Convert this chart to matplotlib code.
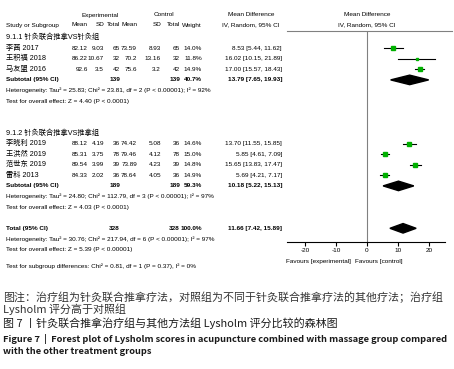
import matplotlib.pyplot as plt
from matplotlib.patches import Polygon

plt.rcParams['font.family'] = ['Liberation Sans', 'Noto Sans CJK SC', 'DejaVu Sans']

# study level data
study = ['李茜 2017', '王积福 2018', '马友盟 2016',
         '李晓利 2019', '王洪然 2019', '范世东 2019', '雷科 2013']
exp_mean = [82.12, 86.22, 92.6, 88.12, 85.31, 89.54, 84.33]
exp_sd = [9.03, 10.67, 3.5, 4.19, 3.75, 3.99, 2.02]
exp_n = [65, 32, 42, 36, 78, 39, 36]
ctl_mean = [73.59, 70.2, 75.6, 74.42, 79.46, 73.89, 78.64]
ctl_sd = [8.93, 13.16, 3.2, 5.08, 4.12, 4.23, 4.05]
ctl_n = [65, 32, 42, 36, 78, 39, 36]
weight = [14.0, 11.8, 14.9, 14.6, 15.0, 14.8, 14.9]
md = [8.53, 16.02, 17.00, 13.70, 5.85, 15.65, 5.69]
md_lo = [5.44, 10.15, 15.57, 11.55, 4.61, 13.83, 4.21]
md_hi = [11.62, 21.89, 18.43, 15.85, 7.09, 17.47, 7.17]
study_row = [1, 2, 3, 10, 11, 12, 13]

# subgroup titles
group_title = ['9.1.1 针灸联合推拿VS针灸组', '9.1.2 针灸联合推拿VS推拿组']
group_row = [0, 9]

# subtotals + total
sum_label = ['Subtotal (95% CI)', 'Subtotal (95% CI)', 'Total (95% CI)']
sum_exp_n = [139, 189, 328]
sum_ctl_n = [139, 189, 328]
sum_weight = [40.7, 59.3, 100.0]
sum_md = [13.79, 10.18, 11.66]
sum_lo = [7.65, 5.22, 7.42]
sum_hi = [19.93, 15.13, 15.89]
sum_row = [4, 14, 18]

notes = ['Heterogeneity: Tau² = 25.83; Chi² = 23.81, df = 2 (P < 0.00001); I² = 92%',
         'Test for overall effect: Z = 4.40 (P < 0.0001)',
         'Heterogeneity: Tau² = 24.80; Chi² = 112.79, df = 3 (P < 0.00001); I² = 97%',
         'Test for overall effect: Z = 4.03 (P < 0.0001)',
         'Heterogeneity: Tau² = 30.76; Chi² = 217.94, df = 6 (P < 0.00001); I² = 97%',
         'Test for overall effect: Z = 5.39 (P < 0.00001)']
note_row = [5, 6, 15, 16, 19, 20]

xticks = [-20, -10, 0, 10, 20]

caption = ['图注：治疗组为针灸联合推拿疗法，对照组为不同于针灸联合推拿疗法的其他疗法；治疗组',
           'Lysholm 评分高于对照组',
           '图 7 丨针灸联合推拿治疗组与其他方法组 Lysholm 评分比较的森林图']
caption_en = ['Figure 7  |  Forest plot of Lysholm scores in acupuncture combined with massage group compared',
              'with the other treatment groups']

W, H = 454, 369
Y0, STEP = 37.5, 10.6   # pixel y of row 0, row height


def py(r):
    return Y0 + STEP * r


fig = plt.figure(figsize=(W / 100, H / 100), dpi=100)

# text layer in pixel coords
tax = fig.add_axes([0, 0, 1, 1])
tax.set_xlim(0, W)
tax.set_ylim(H, 0)
tax.axis('off')

fs = 4.6
kw = dict(fontsize=fs, va='center', color='black')
kn = dict(fontsize=5.2, va='center', color='black')

# headers
tax.text(100, 15, 'Experimental', ha='center', **kw)
tax.text(164, 15, 'Control', ha='center', **kw)
tax.text(251, 15, 'Mean Difference', ha='center', **kw)
tax.text(367, 15, 'Mean Difference', ha='center', **kw)
tax.text(6, 25, 'Study or Subgroup', ha='left', **kw)
for x, s in zip([88, 104, 120, 137, 161, 180, 202],
                ['Mean', 'SD', 'Total', 'Mean', 'SD', 'Total', 'Weight']):
    tax.text(x, 25, s, ha='right', **kw)
tax.text(251, 25, 'IV, Random, 95% CI', ha='center', **kw)
tax.text(367, 25, 'IV, Random, 95% CI', ha='center', **kw)
tax.plot([287, 452], [31, 31], color='#808080', lw=0.8)

for t, r in zip(group_title, group_row):
    tax.text(6, py(r), t, ha='left', **kn)

for i in range(len(study)):
    y = py(study_row[i])
    tax.text(6, y, study[i], ha='left', **kn)
    tax.text(88, y, f'{exp_mean[i]:g}', ha='right', **kw)
    tax.text(104, y, f'{exp_sd[i]:g}', ha='right', **kw)
    tax.text(120, y, str(exp_n[i]), ha='right', **kw)
    tax.text(137, y, f'{ctl_mean[i]:g}', ha='right', **kw)
    tax.text(161, y, f'{ctl_sd[i]:g}', ha='right', **kw)
    tax.text(180, y, str(ctl_n[i]), ha='right', **kw)
    tax.text(202, y, f'{weight[i]:.1f}%', ha='right', **kw)
    tax.text(282, y, f'{md[i]:.2f} [{md_lo[i]:.2f}, {md_hi[i]:.2f}]', ha='right', **kw)

for i in range(len(sum_label)):
    y = py(sum_row[i])
    tax.text(6, y, sum_label[i], ha='left', fontweight='bold', **kw)
    tax.text(120, y, str(sum_exp_n[i]), ha='right', fontweight='bold', **kw)
    tax.text(180, y, str(sum_ctl_n[i]), ha='right', fontweight='bold', **kw)
    tax.text(202, y, f'{sum_weight[i]:.1f}%', ha='right', fontweight='bold', **kw)
    tax.text(282, y, f'{sum_md[i]:.2f} [{sum_lo[i]:.2f}, {sum_hi[i]:.2f}]',
             ha='right', fontweight='bold', **kw)

for t, r in zip(notes, note_row):
    tax.text(6, py(r), t, ha='left', **kw)
tax.text(6, 266, 'Test for subgroup differences: Chi² = 0.81, df = 1 (P = 0.37), I² = 0%',
         ha='left', **kw)

tax.text(351, 262, 'Favours [experimental]', ha='right', **kw)
tax.text(355, 262, 'Favours [control]', ha='left', **kw)

# caption
cap_fs = 7.9
cjk = ['Noto Sans CJK SC']
tax.text(3, 297, caption[0], ha='left', va='center', fontsize=cap_fs,
         family=cjk, color='#333333')
tax.text(3, 309, caption[1], ha='left', va='center', fontsize=cap_fs,
         family=cjk, color='#333333')
tax.text(3, 323, caption[2], ha='left', va='center', fontsize=cap_fs,
         family=cjk, color='#1a1a1a')
tax.text(3, 339, caption_en[0], ha='left', va='center', fontsize=6.7,
         family=cjk, fontweight='bold', color='#1a1a1a')
tax.text(3, 351, caption_en[1], ha='left', va='center', fontsize=6.7,
         family=cjk, fontweight='bold', color='#1a1a1a')

# forest plot axes
x_l, x_r, y_t, y_b = 287, 445, 31, 242
ax = fig.add_axes([x_l / W, 1 - y_b / H, (x_r - x_l) / W, (y_b - y_t) / H])
ax.patch.set_alpha(0)
ax.set_xlim(-25.8, 25.2)
ax.set_ylim((y_b - Y0) / STEP, (y_t - Y0) / STEP)
for s in ['top', 'left', 'right']:
    ax.spines[s].set_visible(False)
ax.spines['bottom'].set_linewidth(0.8)
ax.set_yticks([])
ax.set_xticks(xticks)
ax.set_xticklabels([f'{v:g}' for v in xticks], fontsize=fs)
ax.tick_params(axis='x', length=3, width=0.8, pad=1.5)
ax.axvline(0, color='#808080', lw=0.8)

for i in range(len(study)):
    r = study_row[i]
    ax.plot([md_lo[i], md_hi[i]], [r, r], color='black', lw=0.8)
    ax.plot(md[i], r, 's', color='#00b000', ms=weight[i] * 0.17, mec='#00b000')

for i in range(len(sum_label)):
    r = sum_row[i]
    h = 0.45
    ax.add_patch(Polygon([[sum_lo[i], r], [sum_md[i], r - h],
                          [sum_hi[i], r], [sum_md[i], r + h]],
                         closed=True, color='black'))

fig.savefig('out.png', dpi=100)
